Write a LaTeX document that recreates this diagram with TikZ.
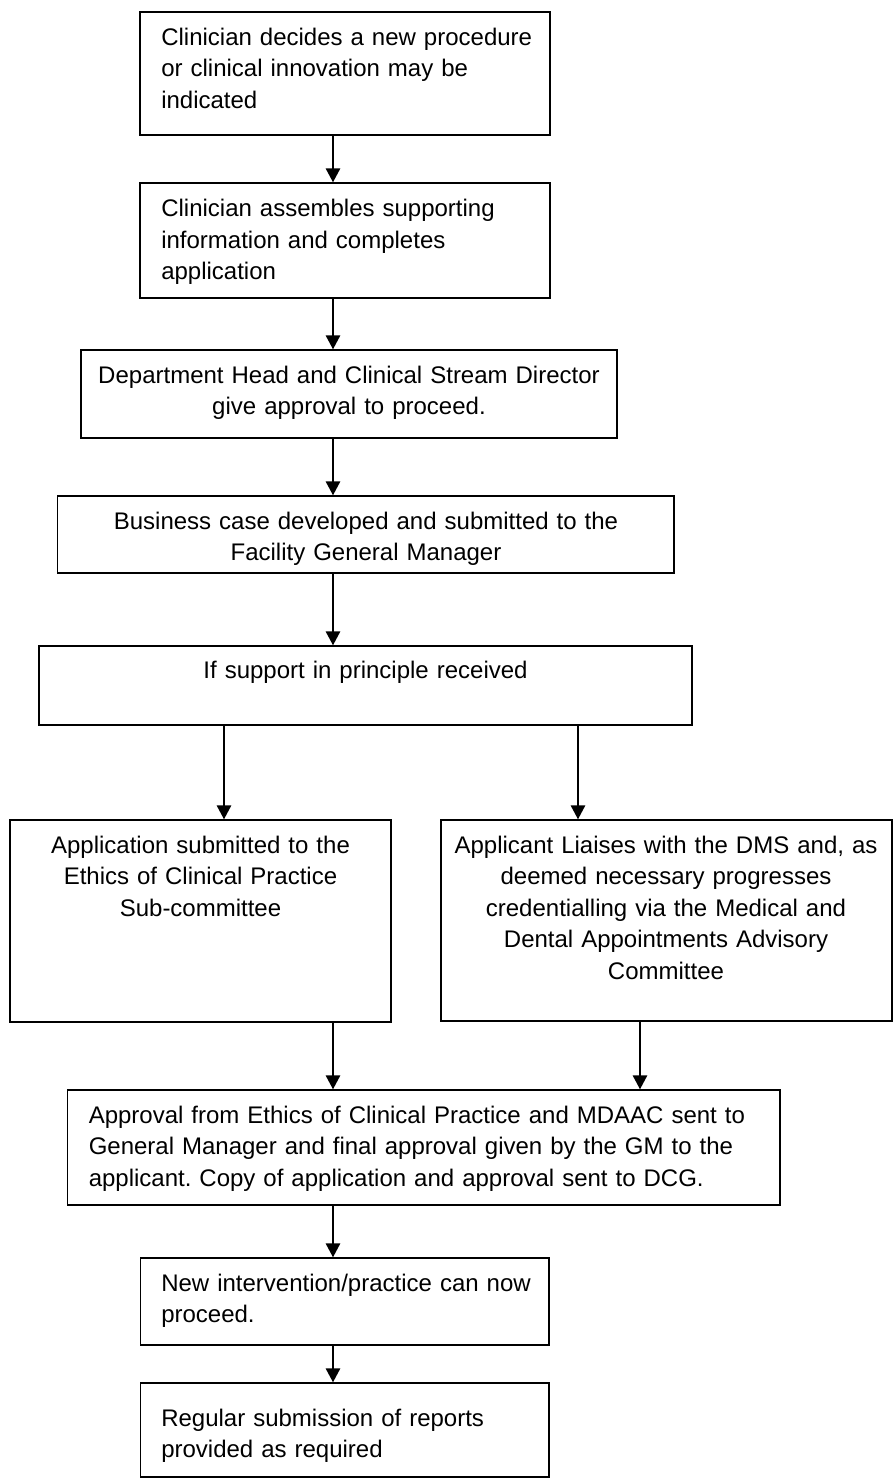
\documentclass[tikz,border=0pt]{standalone}
\usepackage{fontspec}
\setmainfont{Liberation Sans}
\usetikzlibrary{arrows.meta,fit}
\frenchspacing
\begin{document}
\begin{tikzpicture}[x=0.75pt,y=-0.75pt,
  box/.style={draw, line width=1.1pt, inner sep=0pt, fit={#1}},
  txtl/.style={anchor=base west, inner sep=0pt, text width=#1, align=left, font=\fontsize{18}{23.7}\selectfont},
  txtc/.style={anchor=base, inner sep=0pt, text width=#1, align=center, font=\fontsize{18}{23.7}\selectfont},
  arr/.style={line width=1.1pt, -{Triangle[width=10.9pt,length=10.5pt]}}]
\useasboundingbox (0,0) rectangle (893,1479);
% boxes
\node[box={(140,12) (550,135)}] (b1) {};
\node[box={(140,183) (550,298)}] (b2) {};
\node[box={(81,350) (617,438)}] (b3) {};
\node[box={(57.6,496) (674,573)}] (b4) {};
\node[box={(39,646) (692,725)}] (b5) {};
\node[box={(10,820) (391,1022)}] (b6l) {};
\node[box={(441,820) (892,1021)}] (b6r) {};
\node[box={(67.5,1090) (780,1205)}] (b7) {};
\node[box={(140.5,1258) (549,1345)}] (b8) {};
\node[box={(140.5,1383) (549,1477)}] (b9) {};
% texts
\node[txtl=300pt] (t1) at (161,45) {Clinician decides a new procedure\\or clinical innovation may be\\indicated};
\node[txtl=300pt] (t2) at (161,216.5) {Clinician assembles supporting\\information and completes\\application};
\node[txtc=390pt] (t3) at (349,383) {Department Head and Clinical Stream Director\\give approval to proceed.};
\node[txtc=440pt] (t4) at (366,529) {Business case developed and submitted to the\\Facility General Manager};
\node[txtc=440pt] (t5) at (365.5,678) {If support in principle received};
\node[txtc=270pt] (t6l) at (200.5,853) {Application submitted to the\\Ethics of Clinical Practice\\Sub-committee};
\node[txtc=330pt] (t6r) at (666,853) {Applicant Liaises with the DMS and, as\\deemed necessary progresses\\credentialling via the Medical and\\Dental Appointments Advisory\\Committee};
\node[txtl=520pt] (t7) at (88.5,1123) {Approval from Ethics of Clinical Practice and MDAAC sent to\\General Manager and final approval given by the GM to the\\applicant. Copy of application and approval sent to DCG.};
\node[txtl=300pt] (t8) at (161,1291) {New intervention/practice can now\\proceed.};
\node[txtl=300pt] (t9) at (161,1426) {Regular submission of reports\\provided as required};
% arrow columns
\coordinate (cx) at (333,0);
\coordinate (lx) at (224,0);
\coordinate (rx) at (578,0);
\coordinate (rx2) at (640,0);
\draw[arr] (b1.south -| cx) -- (b2.north -| cx);
\draw[arr] (b2.south -| cx) -- (b3.north -| cx);
\draw[arr] (b3.south -| cx) -- (b4.north -| cx);
\draw[arr] (b4.south -| cx) -- (b5.north -| cx);
\draw[arr] (b5.south -| lx) -- (b6l.north -| lx);
\draw[arr] (b5.south -| rx) -- (b6r.north -| rx);
\draw[arr] (b6l.south -| cx) -- (b7.north -| cx);
\draw[arr] (b6r.south -| rx2) -- (b7.north -| rx2);
\draw[arr] (b7.south -| cx) -- (b8.north -| cx);
\draw[arr] (b8.south -| cx) -- (b9.north -| cx);
\end{tikzpicture}
\end{document}
